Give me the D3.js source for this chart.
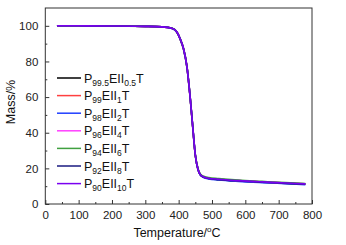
<!DOCTYPE html>
<html><head><meta charset="utf-8">
<script src="https://cdn.jsdelivr.net/npm/d3@7"></script>
<style>body{margin:0;background:#fff}text{font-family:"Liberation Sans",Arial,sans-serif}</style>
</head><body><svg id="c" width="346" height="245"></svg>
<script>
const temps = [35, 100, 200, 300, 350, 380, 395, 405, 415, 425, 435, 442, 450, 458, 465, 475, 490, 520, 580, 650, 720, 780];
const massP995 = [100, 100, 99.9, 99.7, 99.4, 98.5, 96.3, 92.2, 86.5, 76.5, 58.5, 43.5, 27.2, 19.4, 16.4, 15.1, 14.4, 13.8, 13.0, 12.3, 11.7, 11.2];
const massP99  = [100, 100, 99.9, 99.7, 99.4, 98.6, 96.4, 92.4, 86.8, 76.8, 58.8, 43.8, 27.4, 19.5, 16.5, 15.2, 14.5, 13.9, 13.1, 12.4, 11.8, 11.3];
const massP98  = [100, 100, 99.9, 99.7, 99.4, 98.5, 96.3, 92.3, 86.7, 76.7, 58.9, 44.0, 27.6, 19.4, 16.3, 14.9, 14.1, 13.5, 12.7, 12.0, 11.4, 10.9];
const massP96  = [100, 100, 99.9, 99.7, 99.4, 98.6, 96.5, 92.5, 87.0, 77.0, 59.0, 44.0, 27.5, 19.5, 16.5, 15.2, 14.5, 13.9, 13.1, 12.4, 11.8, 11.3];
const massP94  = [100, 100, 99.9, 99.7, 99.5, 98.7, 96.6, 92.7, 87.2, 77.3, 59.3, 44.3, 27.8, 19.9, 16.9, 15.6, 14.9, 14.3, 13.4, 12.7, 12.0, 11.5];
const massP92  = [100, 100, 99.9, 99.7, 99.4, 98.6, 96.4, 92.4, 86.9, 76.9, 58.9, 43.9, 27.4, 19.4, 16.4, 15.0, 14.3, 13.7, 12.9, 12.2, 11.6, 11.1];
const massP90  = [100, 100, 99.9, 99.7, 99.4, 98.6, 96.5, 92.5, 87.0, 77.0, 59.0, 44.0, 27.5, 19.5, 16.5, 15.2, 14.5, 13.9, 13.1, 12.4, 11.8, 11.3];
const seriesP = ["99.5", "99", "98", "96", "94", "92", "90"];
const seriesE = ["0.5", "1", "2", "4", "6", "8", "10"];
const seriesColors = ["#000000", "#ff4040", "#1f3fff", "#ff40ff", "#40a040", "#1a1a80", "#7a00f0"];
const allMass = [massP995, massP99, massP98, massP96, massP94, massP92, massP90];
const xTicks = [0, 100, 200, 300, 400, 500, 600, 700, 800];
const yTicks = [0, 20, 40, 60, 80, 100];

const svg = d3.select("#c");
const L = 45.3, R = 312, T = 8, B = 204;
const x = d3.scaleLinear().domain([0, 800]).range([L, R]);
const y = d3.scaleLinear().domain([0, 110]).range([B, T]);

svg.append("rect").attr("x", L).attr("y", T).attr("width", R - L).attr("height", B - T)
  .attr("fill", "none").attr("stroke", "#333").attr("stroke-width", 1);

const gx = svg.append("g").attr("transform", `translate(0,${B})`)
  .call(d3.axisBottom(x).tickValues(xTicks).tickSize(-4).tickPadding(7).tickFormat(d3.format("d")));
const gxm = svg.append("g").attr("transform", `translate(0,${B})`)
  .call(d3.axisBottom(x).tickValues(d3.range(50, 800, 100)).tickSize(-2).tickFormat(""));
const gy = svg.append("g").attr("transform", `translate(${L},0)`)
  .call(d3.axisLeft(y).tickValues(yTicks).tickSize(-4).tickPadding(7).tickFormat(d3.format("d")));
const gym = svg.append("g").attr("transform", `translate(${L},0)`)
  .call(d3.axisLeft(y).tickValues(d3.range(10, 110, 20)).tickSize(-2).tickFormat(""));
[gx, gxm, gy, gym].forEach(g => {
  g.select(".domain").remove();
  g.selectAll("line").attr("stroke", "#333");
  g.selectAll("text").attr("font-size", 11.5).attr("fill", "#222").attr("font-family", "Liberation Sans, Arial, sans-serif");
});

const line = d3.line().x((d, i) => x(temps[i])).y(d => y(d)).curve(d3.curveMonotoneX);
allMass.forEach((m, i) => {
  svg.append("path").datum(m).attr("d", line).attr("fill", "none")
    .attr("stroke", seriesColors[i]).attr("stroke-width", 1.6);
});

const lg = svg.append("g");
seriesP.forEach((p, i) => {
  const yy = 78 + i * 17.6;
  lg.append("line").attr("x1", 57).attr("x2", 81).attr("y1", yy).attr("y2", yy)
    .attr("stroke", seriesColors[i]).attr("stroke-width", 1.5);
  const t = lg.append("text").attr("x", 84).attr("y", yy + 4.5).attr("font-size", 12.5).attr("fill", "#111");
  t.append("tspan").text("P");
  t.append("tspan").attr("font-size", 8.5).attr("dy", 3).text(p);
  t.append("tspan").attr("dy", -3).text("EII");
  t.append("tspan").attr("font-size", 8.5).attr("dy", 3).text(seriesE[i]);
  t.append("tspan").attr("dy", -3).text("T");
});

svg.append("text").attr("x", 177).attr("y", 237).attr("text-anchor", "middle").attr("font-size", 12.5).attr("fill", "#111")
  .call(t => { t.append("tspan").text("Temperature/"); t.append("tspan").attr("font-size", 8).attr("dy", -5).text("o"); t.append("tspan").attr("dy", 5).text("C"); });
svg.append("text").attr("transform", "translate(15,102) rotate(-90)").attr("text-anchor", "middle")
  .attr("font-size", 12.5).attr("fill", "#111").text("Mass/%");
</script></body></html>
